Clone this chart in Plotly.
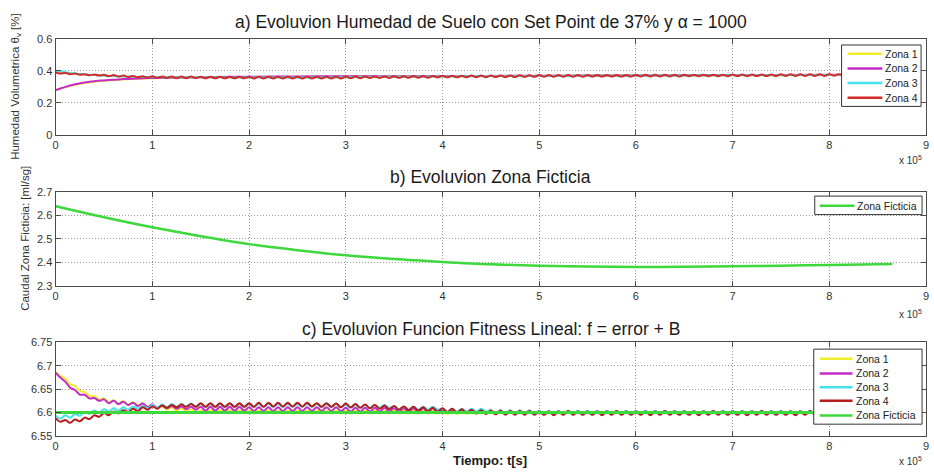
import numpy as np
import plotly.graph_objects as go

# ---------------- data (time in units of 1e5 s) ----------------
# Panel a: soil moisture (coarse-sampled series)
t_a = [0, 0.05, 0.1, 0.15, 0.2, 0.3, 0.4, 0.5, 0.6, 0.7, 0.8, 1.0, 1.25, 1.5,
       2.0, 2.5, 3.0, 3.5, 4.0, 4.5, 5.0, 6.0, 7.0, 8.0, 8.65]
zona1_a = [0.283, 0.290, 0.297, 0.305, 0.313, 0.325, 0.333, 0.338, 0.343, 0.347, 0.350, 0.355, 0.358,
           0.360, 0.362, 0.364, 0.365, 0.366, 0.367, 0.368, 0.369, 0.371, 0.373, 0.375, 0.376]
zona2_a = [0.280, 0.290, 0.300, 0.309, 0.317, 0.328, 0.336, 0.341, 0.345, 0.349, 0.352, 0.356, 0.359,
           0.361, 0.364, 0.366, 0.367, 0.367, 0.368, 0.369, 0.370, 0.372, 0.374, 0.376, 0.377]
zona3_a = [0.402, 0.397, 0.392, 0.388, 0.384, 0.378, 0.374, 0.370, 0.368, 0.366, 0.364, 0.362, 0.361,
           0.360, 0.359, 0.359, 0.361, 0.363, 0.366, 0.368, 0.369, 0.371, 0.373, 0.375, 0.376]
# Zona 4 (panel a) sampled every 0.05 (peaks / troughs of the ripple)
zona4_a = [
    0.391, 0.384, 0.388, 0.380, 0.384, 0.376, 0.380, 0.373, 0.378, 0.371,
    0.376, 0.367, 0.374, 0.365, 0.371, 0.362, 0.369, 0.360, 0.367, 0.359,
    0.367, 0.357, 0.366, 0.356, 0.366, 0.355, 0.365, 0.355, 0.365, 0.355,
    0.364, 0.354, 0.364, 0.354, 0.364, 0.354, 0.364, 0.354, 0.364, 0.354,
    0.363, 0.353, 0.363, 0.353, 0.363, 0.353, 0.363, 0.353, 0.363, 0.353,
    0.363, 0.353, 0.363, 0.353, 0.363, 0.353, 0.363, 0.353, 0.363, 0.353,
    0.365, 0.355, 0.365, 0.355, 0.365, 0.356, 0.366, 0.356, 0.366, 0.356,
    0.367, 0.357, 0.367, 0.357, 0.368, 0.358, 0.368, 0.358, 0.369, 0.359,
    0.370, 0.360, 0.370, 0.360, 0.370, 0.360, 0.371, 0.361, 0.371, 0.361,
    0.372, 0.362, 0.372, 0.362, 0.372, 0.362, 0.373, 0.363, 0.373, 0.363,
    0.374, 0.364, 0.374, 0.364, 0.374, 0.364, 0.374, 0.364, 0.374, 0.364,
    0.375, 0.365, 0.375, 0.365, 0.375, 0.365, 0.375, 0.365, 0.375, 0.365,
    0.376, 0.366, 0.376, 0.366, 0.376, 0.366, 0.376, 0.366, 0.376, 0.366,
    0.377, 0.367, 0.377, 0.367, 0.377, 0.367, 0.377, 0.367, 0.377, 0.367,
    0.378, 0.368, 0.378, 0.368, 0.378, 0.368, 0.378, 0.368, 0.378, 0.368,
    0.379, 0.369, 0.379, 0.369, 0.379, 0.369, 0.379, 0.369, 0.379, 0.369,
    0.380, 0.370, 0.380, 0.370, 0.380, 0.370, 0.380, 0.370, 0.380, 0.370,
    0.381, 0.371, 0.381, 0.371,
]

# Panel b: fictitious zone flow
t_b = [0, 0.5, 1.0, 1.5, 2.0, 2.5, 3.0, 3.5, 4.0, 4.5, 5.0, 5.5, 6.0, 6.5, 7.0, 7.5, 8.0, 8.5, 8.65]
ficticia_b = [2.640, 2.593, 2.550, 2.512, 2.478, 2.452, 2.430, 2.414, 2.402, 2.392, 2.386, 2.382,
              2.380, 2.381, 2.383, 2.386, 2.389, 2.392, 2.393]

# Panel c: fitness function, sampled every 0.05
zona1_c = [
    6.686, 6.678, 6.672, 6.660, 6.657, 6.646, 6.644, 6.635, 6.635, 6.628,
    6.630, 6.622, 6.626, 6.619, 6.624, 6.617, 6.622, 6.615, 6.620, 6.612,
    6.616, 6.608, 6.613, 6.606, 6.611, 6.604, 6.609, 6.602, 6.607, 6.600,
    6.605, 6.599, 6.605, 6.599, 6.605, 6.599, 6.605, 6.599, 6.605, 6.599,
    6.604, 6.598, 6.604, 6.598, 6.604, 6.598, 6.604, 6.598, 6.604, 6.598,
    6.604, 6.598, 6.604, 6.598, 6.604, 6.598, 6.604, 6.598, 6.604, 6.598,
    6.604, 6.598, 6.604, 6.598, 6.604, 6.598, 6.604, 6.598, 6.604, 6.598,
    6.604, 6.598, 6.604, 6.598, 6.604, 6.598, 6.604, 6.598, 6.604, 6.598,
    6.603, 6.597, 6.603, 6.597, 6.603, 6.597, 6.603, 6.597, 6.603, 6.597,
    6.603, 6.597, 6.603, 6.597, 6.603, 6.597, 6.603, 6.597, 6.603, 6.597,
    6.603, 6.597, 6.603, 6.597, 6.603, 6.597, 6.603, 6.597, 6.603, 6.597,
    6.603, 6.597, 6.603, 6.597, 6.603, 6.597, 6.603, 6.597, 6.603, 6.597,
    6.603, 6.597, 6.603, 6.597, 6.603, 6.597, 6.603, 6.597, 6.603, 6.597,
    6.603, 6.597, 6.603, 6.597, 6.603, 6.597, 6.603, 6.597, 6.603, 6.597,
    6.603, 6.597, 6.603, 6.597, 6.603, 6.597, 6.603, 6.597, 6.603, 6.597,
    6.603, 6.597, 6.603, 6.597, 6.603, 6.597, 6.603, 6.597, 6.603, 6.597,
    6.603, 6.597, 6.603, 6.597, 6.603, 6.597, 6.603, 6.597, 6.603, 6.597,
    6.603, 6.597, 6.603, 6.597,
]
zona2_c = [
    6.685, 6.674, 6.666, 6.653, 6.648, 6.638, 6.638, 6.630, 6.631, 6.625,
    6.628, 6.620, 6.625, 6.618, 6.623, 6.616, 6.621, 6.614, 6.619, 6.612,
    6.617, 6.610, 6.615, 6.609, 6.614, 6.608, 6.613, 6.607, 6.612, 6.606,
    6.612, 6.604, 6.612, 6.604, 6.612, 6.604, 6.612, 6.604, 6.612, 6.604,
    6.611, 6.603, 6.611, 6.603, 6.611, 6.603, 6.611, 6.603, 6.611, 6.603,
    6.611, 6.603, 6.611, 6.603, 6.611, 6.603, 6.611, 6.603, 6.611, 6.603,
    6.610, 6.602, 6.610, 6.602, 6.610, 6.602, 6.610, 6.602, 6.610, 6.602,
    6.609, 6.601, 6.609, 6.601, 6.609, 6.601, 6.609, 6.601, 6.609, 6.601,
    6.606, 6.600, 6.606, 6.600, 6.606, 6.600, 6.606, 6.600, 6.606, 6.600,
    6.604, 6.598, 6.604, 6.598, 6.604, 6.598, 6.604, 6.598, 6.604, 6.598,
    6.603, 6.597, 6.603, 6.597, 6.603, 6.597, 6.603, 6.597, 6.603, 6.597,
    6.603, 6.597, 6.603, 6.597, 6.603, 6.597, 6.603, 6.597, 6.603, 6.597,
    6.603, 6.597, 6.603, 6.597, 6.603, 6.597, 6.603, 6.597, 6.603, 6.597,
    6.603, 6.597, 6.603, 6.597, 6.603, 6.597, 6.603, 6.597, 6.603, 6.597,
    6.603, 6.597, 6.603, 6.597, 6.603, 6.597, 6.603, 6.597, 6.603, 6.597,
    6.603, 6.597, 6.603, 6.597, 6.603, 6.597, 6.603, 6.597, 6.603, 6.597,
    6.603, 6.597, 6.603, 6.597, 6.603, 6.597, 6.603, 6.597, 6.603, 6.597,
    6.603, 6.597, 6.603, 6.597,
]
zona3_c = [
    6.593, 6.587, 6.594, 6.589, 6.597, 6.593, 6.601, 6.597, 6.604, 6.600,
    6.607, 6.602, 6.609, 6.604, 6.611, 6.606, 6.613, 6.608, 6.614, 6.609,
    6.616, 6.610, 6.617, 6.611, 6.618, 6.612, 6.618, 6.613, 6.619, 6.613,
    6.618, 6.612, 6.618, 6.612, 6.618, 6.612, 6.618, 6.612, 6.618, 6.612,
    6.618, 6.612, 6.618, 6.612, 6.618, 6.612, 6.618, 6.612, 6.618, 6.612,
    6.618, 6.612, 6.618, 6.612, 6.618, 6.612, 6.618, 6.612, 6.618, 6.612,
    6.616, 6.610, 6.616, 6.610, 6.616, 6.610, 6.616, 6.610, 6.616, 6.610,
    6.612, 6.606, 6.612, 6.606, 6.612, 6.606, 6.612, 6.606, 6.612, 6.606,
    6.608, 6.602, 6.608, 6.602, 6.608, 6.602, 6.608, 6.602, 6.608, 6.602,
    6.604, 6.598, 6.604, 6.598, 6.604, 6.598, 6.604, 6.598, 6.604, 6.598,
    6.603, 6.597, 6.603, 6.597, 6.603, 6.597, 6.603, 6.597, 6.603, 6.597,
    6.603, 6.597, 6.603, 6.597, 6.603, 6.597, 6.603, 6.597, 6.603, 6.597,
    6.603, 6.597, 6.603, 6.597, 6.603, 6.597, 6.603, 6.597, 6.603, 6.597,
    6.603, 6.597, 6.603, 6.597, 6.603, 6.597, 6.603, 6.597, 6.603, 6.597,
    6.603, 6.597, 6.603, 6.597, 6.603, 6.597, 6.603, 6.597, 6.603, 6.597,
    6.603, 6.597, 6.603, 6.597, 6.603, 6.597, 6.603, 6.597, 6.603, 6.597,
    6.603, 6.597, 6.603, 6.597, 6.603, 6.597, 6.603, 6.597, 6.603, 6.597,
    6.603, 6.597, 6.603, 6.597,
]
zona4_c = [
    6.588, 6.580, 6.584, 6.578, 6.585, 6.581, 6.589, 6.586, 6.594, 6.591,
    6.599, 6.594, 6.602, 6.598, 6.605, 6.601, 6.608, 6.603, 6.611, 6.606,
    6.613, 6.608, 6.615, 6.610, 6.616, 6.611, 6.617, 6.612, 6.618, 6.612,
    6.620, 6.612, 6.620, 6.612, 6.620, 6.612, 6.620, 6.612, 6.620, 6.612,
    6.620, 6.612, 6.621, 6.612, 6.621, 6.613, 6.621, 6.613, 6.621, 6.613,
    6.621, 6.613, 6.621, 6.613, 6.620, 6.612, 6.620, 6.612, 6.619, 6.611,
    6.619, 6.611, 6.618, 6.610, 6.617, 6.609, 6.616, 6.608, 6.615, 6.607,
    6.614, 6.606, 6.613, 6.605, 6.612, 6.604, 6.611, 6.603, 6.610, 6.602,
    6.609, 6.601, 6.608, 6.600, 6.607, 6.599, 6.606, 6.598, 6.605, 6.597,
    6.604, 6.596, 6.604, 6.595, 6.603, 6.595, 6.603, 6.595, 6.603, 6.595,
    6.602, 6.595, 6.602, 6.594, 6.602, 6.595, 6.603, 6.595, 6.602, 6.595,
    6.602, 6.595, 6.602, 6.594, 6.602, 6.595, 6.603, 6.595, 6.602, 6.595,
    6.602, 6.595, 6.602, 6.594, 6.602, 6.595, 6.603, 6.595, 6.602, 6.595,
    6.602, 6.595, 6.602, 6.594, 6.602, 6.595, 6.603, 6.595, 6.602, 6.595,
    6.602, 6.595, 6.602, 6.594, 6.602, 6.595, 6.603, 6.595, 6.602, 6.595,
    6.602, 6.595, 6.602, 6.594, 6.602, 6.595, 6.603, 6.595, 6.602, 6.595,
    6.602, 6.595, 6.602, 6.594, 6.602, 6.595, 6.603, 6.595, 6.602, 6.595,
    6.602, 6.595, 6.602, 6.595,
]
t_fic_c = [0, 8.65]
ficticia_c = [6.600, 6.600]

# time grid for the finely sampled series (0.05 x 1e5 s step)
t_fine = np.round(np.arange(len(zona4_c)) * 0.05, 2)

# ---------------- styling ----------------
C_YEL = '#eeee2a'
C_MAG = '#c42cc4'
C_CYA = '#44e2ea'
C_RED_A = '#d42a2a'
C_RED_C = '#b51d1d'
C_GRN = '#3cd83c'

FONT = 'Liberation Sans, Arial, sans-serif'
LEGFONT = 'Liberation Sans Narrow, Liberation Sans, Arial, sans-serif'

W, H = 934, 476
X0, X1 = 53 / W, 929 / W

fig = go.Figure()


def add(x, y, name, color, width, xa, ya):
    fig.add_trace(go.Scatter(
        x=x, y=y, name=name, mode='lines', showlegend=False,
        line=dict(color=color, width=width, shape='spline', smoothing=1.0),
        xaxis=xa, yaxis=ya))


series_a = [
    (t_a, zona1_a, 'Zona 1', C_YEL, 2),
    (t_a, zona2_a, 'Zona 2', C_MAG, 2),
    (t_a, zona3_a, 'Zona 3', C_CYA, 2),
    (t_fine[:len(zona4_a)], zona4_a, 'Zona 4', C_RED_A, 2),
]
series_b = [(t_b, ficticia_b, 'Zona Ficticia', C_GRN, 2.5)]
series_c = [
    (t_fine[:len(zona1_c)], zona1_c, 'Zona 1', C_YEL, 2),
    (t_fine[:len(zona2_c)], zona2_c, 'Zona 2', C_MAG, 2),
    (t_fine[:len(zona3_c)], zona3_c, 'Zona 3', C_CYA, 2),
    (t_fine[:len(zona4_c)], zona4_c, 'Zona 4', C_RED_C, 2),
    (t_fic_c, ficticia_c, 'Zona Ficticia', C_GRN, 3),
]
for s in series_a:
    add(*s, 'x', 'y')
for s in series_b:
    add(*s, 'x2', 'y2')
for s in series_c:
    add(*s, 'x3', 'y3')

axis_common = dict(
    showline=True, linecolor='#4a4a4a', linewidth=1.3, mirror='ticks',
    ticks='inside', ticklen=5, tickwidth=1.3, tickcolor='#4a4a4a',
    showgrid=True, gridcolor='#9a9a9a', griddash='1px,2px', gridwidth=1,
    zeroline=False, tickfont=dict(family=FONT, size=11, color='#333'),
)
xcommon = dict(axis_common, range=[0, 9], tick0=0, dtick=1, domain=[X0, X1])


def ydom(top, bottom):
    return [1 - bottom / H, 1 - top / H]


fig.update_layout(
    width=W, height=H, margin=dict(l=0, r=0, t=0, b=0),
    paper_bgcolor='white', plot_bgcolor='white', showlegend=False,
    xaxis=dict(xcommon, anchor='y'),
    xaxis2=dict(xcommon, anchor='y2'),
    xaxis3=dict(xcommon, anchor='y3'),
    yaxis=dict(axis_common, anchor='x', domain=ydom(34, 132), range=[0, 0.6],
               tickvals=[0, 0.2, 0.4, 0.6], ticktext=['0', '0.2', '0.4', '0.6']),
    yaxis2=dict(axis_common, anchor='x2', domain=ydom(191, 287), range=[2.3, 2.7],
                tickvals=[2.3, 2.4, 2.5, 2.6, 2.7], ticktext=['2.3', '2.4', '2.5', '2.6', '2.7']),
    yaxis3=dict(axis_common, anchor='x3', domain=ydom(345, 441), range=[6.55, 6.75],
                tickvals=[6.55, 6.6, 6.65, 6.7, 6.75],
                ticktext=['6.55', '6.6', '6.65', '6.7', '6.75']),
)


# ---- MATLAB-style compact legends (box, line sample, label) ----
def px(x):
    return x / W


def py(y):
    return 1 - y / H


def draw_legend(series, box, line_x, text_x, ys):
    x0, y0, x1, y1 = box
    fig.add_shape(type='rect', xref='paper', yref='paper', layer='above',
                  x0=px(x0), x1=px(x1), y0=py(y0), y1=py(y1),
                  fillcolor='white', line=dict(color='#333', width=1))
    for s, yy in zip(series, ys):
        name, color = s[2], s[3]
        fig.add_shape(type='line', xref='paper', yref='paper', layer='above',
                      x0=px(line_x[0]), x1=px(line_x[1]), y0=py(yy), y1=py(yy),
                      line=dict(color=color, width=2.5))
        fig.add_annotation(text=name, x=px(text_x), y=py(yy), xref='paper', yref='paper',
                           xanchor='left', yanchor='middle', showarrow=False,
                           font=dict(family=LEGFONT, size=10.5, color='#222'))


draw_legend(series_a, (844, 40, 924, 103), (850, 885), 886, [49, 64, 79, 94])
draw_legend(series_b, (817, 195, 925, 214), (822, 857), 858, [205])
draw_legend(series_c, (816, 352, 925, 429), (822, 855), 857, [362, 377, 391, 405, 420])

xc = (X0 + X1) / 2
titles = [
    ('a) Evoluvion Humedad de Suelo con Set Point de 37% y α = 1000', 16),
    ('b) Evoluvion Zona Ficticia', 175),
    ('c) Evoluvion Funcion Fitness Lineal: f = error + B', 331),
]
for text, yy in titles:
    fig.add_annotation(text=text, x=xc, y=py(yy), xref='paper', yref='paper',
                       xanchor='center', yanchor='middle', showarrow=False,
                       font=dict(family=FONT, size=17.5, color='#1a1a1a'))

fig.add_annotation(text='<b>Tiempo: t[s]</b>', x=px(490), y=py(466), xref='paper', yref='paper',
                   xanchor='center', yanchor='middle', showarrow=False,
                   font=dict(family=FONT, size=13, color='#1a1a1a'))

for yy in (158, 316, 467):
    fig.add_annotation(text='x 10<sup>5</sup>', x=px(927), y=py(yy), xref='paper', yref='paper',
                       xanchor='right', yanchor='middle', showarrow=False,
                       font=dict(family=FONT, size=10, color='#333'))

fig.add_annotation(text='Humedad Volumetrica θ<sub>v</sub> [%]', x=px(13), y=py(82),
                   xref='paper', yref='paper', xanchor='center', yanchor='middle',
                   textangle=-90, showarrow=False, font=dict(family=FONT, size=11.5, color='#333'))
fig.add_annotation(text='Caudal Zona Ficticia: [ml/sg]', x=px(22), y=py(238),
                   xref='paper', yref='paper', xanchor='center', yanchor='middle',
                   textangle=-90, showarrow=False, font=dict(family=FONT, size=11.5, color='#333'))

fig.write_html('out.html')
